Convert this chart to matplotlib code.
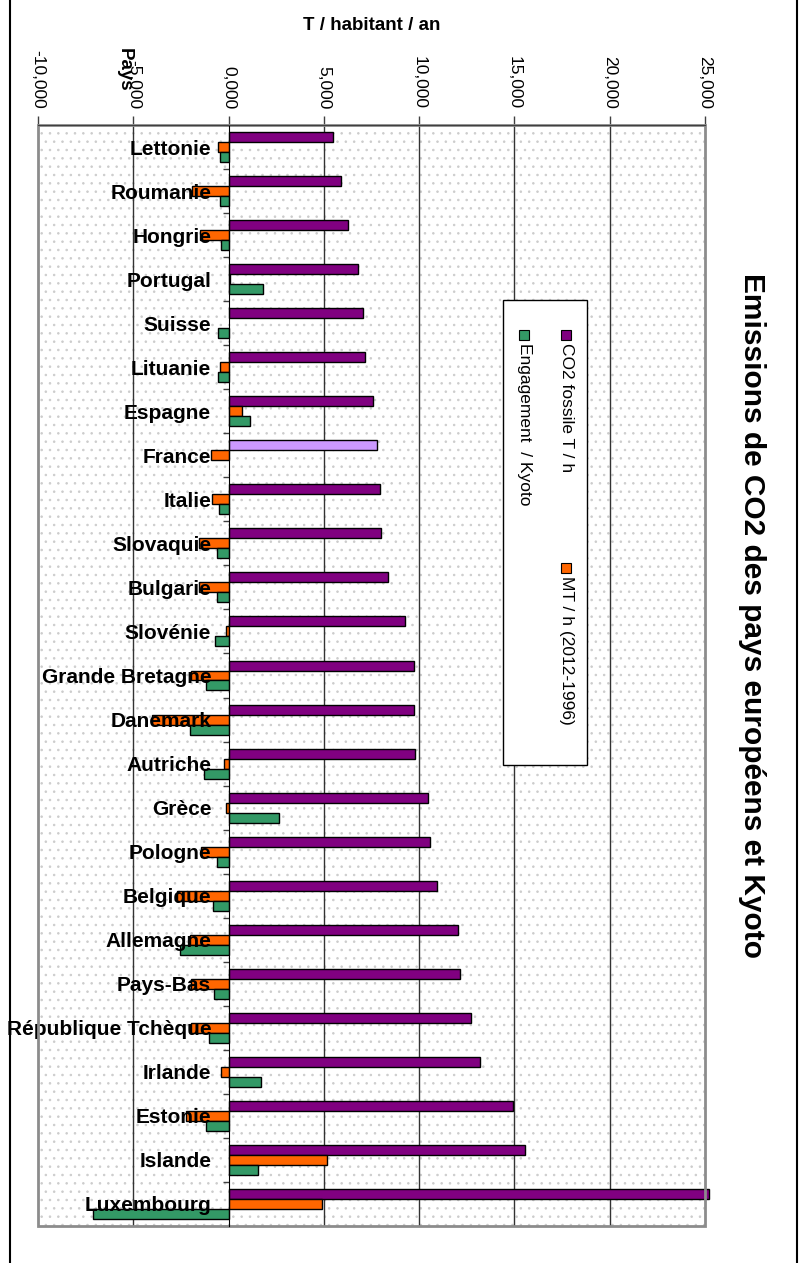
import numpy as np
import matplotlib
matplotlib.use('Agg')
import matplotlib.pyplot as plt
from matplotlib.patches import Rectangle
from matplotlib.lines import Line2D

plt.rcParams['font.family'] = ['Liberation Sans', 'DejaVu Sans']
plt.rcParams['hatch.color'] = '#cccccc'
plt.rcParams['hatch.linewidth'] = 0.6

countries = ['Lettonie', 'Roumanie', 'Hongrie', 'Portugal', 'Suisse', 'Lituanie',
             'Espagne', 'France', 'Italie', 'Slovaquie', 'Bulgarie', 'Slovénie',
             'Grande Bretagne', 'Danemark', 'Autriche', 'Grèce', 'Pologne',
             'Belgique', 'Allemagne', 'Pays-Bas', 'République Tchèque', 'Irlande',
             'Estonie', 'Islande', 'Luxembourg']
co2 = [5.50, 5.92, 6.28, 6.79, 7.05, 7.16, 7.56, 7.80, 7.93, 8.01, 8.38, 9.27,
       9.73, 9.75, 9.76, 10.48, 10.55, 10.94, 12.05, 12.14, 12.71, 13.21, 14.95,
       15.58, 25.2]
mt = [-0.58, -1.91, -1.51, 0.05, np.nan, -0.44, 0.72, -0.94, -0.86, -1.57, -1.57,
      -0.12, -1.96, -4.00, -0.24, -0.16, -1.47, -2.69, -2.00, -1.98, -1.98, -0.39,
      -2.22, 5.19, 4.90]
kyoto = [-0.46, -0.47, -0.38, 1.82, -0.58, -0.58, 1.12, np.nan, -0.52, -0.63, -0.63,
         -0.73, -1.21, -2.05, -1.28, 2.62, -0.63, -0.82, -2.54, -0.75, -1.01, 1.71,
         -1.21, 1.57, -7.13]
series = ['CO2 fossile T / h', 'MT / h (2012-1996)', 'Engagement  / Kyoto']
colors = ['#800080', '#FF6600', '#339966']
highlight = 'France'
highlight_color = '#CC99FF'
xticks = [-10, -5, 0, 5, 10, 15, 20, 25]

W, H = 805, 1263


def fx(x):
    return x / W


def fy(y):
    return 1 - y / H


fig = plt.figure(figsize=(W / 100, H / 100), dpi=100)
ax = fig.add_axes([fx(38), fy(1226), fx(705) - fx(38), fy(125) - fy(1226)])
ax.set_axisbelow(False)

# patterned background
ax.patch.set_facecolor('white')
ax.add_patch(Rectangle((0, 0), 1, 1, transform=ax.transAxes, facecolor='white',
                       hatch='..', edgecolor='#cccccc', lw=0, zorder=0))

y = np.arange(len(countries))
h = 0.227
c0 = [highlight_color if c == highlight else colors[0] for c in countries]
ax.barh(y - h, co2, height=h, color=c0, edgecolor='black', lw=1, zorder=2, clip_on=False)
ax.barh(y, mt, height=h, color=colors[1], edgecolor='black', lw=1, zorder=2)
ax.barh(y + h, kyoto, height=h, color=colors[2], edgecolor='black', lw=1, zorder=2)

ax.set_xlim(xticks[0], xticks[-1])
ax.set_ylim(len(countries) - 0.5, -0.5)

for t in xticks[1:-1]:
    if t != 0:
        ax.axvline(t, color='#333333', lw=1, zorder=1)

# plot area border
ax.add_patch(Rectangle((0, 0), 1, 1, transform=ax.transAxes, fill=False,
                       edgecolor='#8c8c8c', lw=2, zorder=3, clip_on=False))

# value axis on top
ax.xaxis.tick_top()
ax.set_xticks(xticks)
ax.set_xticklabels([f'{v:.3f}'.replace('.', ',') for v in xticks], rotation=-90,
                   fontsize=12.5)
for lab in ax.get_xticklabels():
    lab.set_va('bottom')
ax.tick_params(axis='x', length=6.5, width=1, color='#404040', pad=5)
ax.set_xlabel('T / habitant / an', fontsize=13.5, fontweight='bold')
ax.xaxis.set_label_position('top')
ax.xaxis.set_label_coords(0.5, 1 + 100 / 1101)
ax.xaxis.label.set_va('center')

# category axis at x = 0
ax.spines['left'].set_position(('data', 0))
ax.spines['left'].set_color('black')
ax.spines['left'].set_zorder(4)
ax.spines['right'].set_visible(False)
ax.spines['bottom'].set_visible(False)
ax.spines['top'].set_color('#404040')
ax.spines['top'].set_zorder(4)
ax.set_yticks(y)
ax.set_yticklabels(countries, fontsize=15, fontweight='bold')
ax.set_yticks(np.arange(len(countries) + 1) - 0.5, minor=True)
ax.tick_params(axis='y', which='major', length=0, pad=12.5)
ax.tick_params(axis='y', which='minor', length=4.5, width=1, color='#404040')
ax.set_ylabel('Pays', rotation=-90, fontsize=13.5, fontweight='bold')
ax.yaxis.set_label_coords((124 - 38) / 667, 1 + 55 / 1101)
ax.yaxis.label.set_va('center')
ax.yaxis.label.set_ha('center')

# title
fig.text(fx(752), fy(615), 'Emissions de CO2 des pays européens et Kyoto',
         rotation=-90, ha='center', va='center', fontsize=21.5, fontweight='bold')

# rotated legend
fig.add_artist(Rectangle((fx(503), fy(765)), fx(587) - fx(503), fy(300) - fy(765),
                         facecolor='white', edgecolor='black', lw=1,
                         transform=fig.transFigure))
leg_pos = [(566, 330), (566, 563), (524, 330)]
for (lx, ly), name, col in zip(leg_pos, series, colors):
    fig.add_artist(Rectangle((fx(lx - 5), fy(ly + 10)), 10 / W, 10 / H,
                             facecolor=col, edgecolor='black', lw=0.8,
                             transform=fig.transFigure))
    fig.text(fx(lx), fy(ly + 13), name, rotation=-90, ha='center', va='top',
             fontsize=12.5)

# outer frame
fig.add_artist(Line2D([fx(10), fx(10)], [0, 1], color='black', lw=1.5))
fig.add_artist(Line2D([fx(797), fx(797)], [0, 1], color='black', lw=1.5))

fig.savefig('out.png', dpi=100)
